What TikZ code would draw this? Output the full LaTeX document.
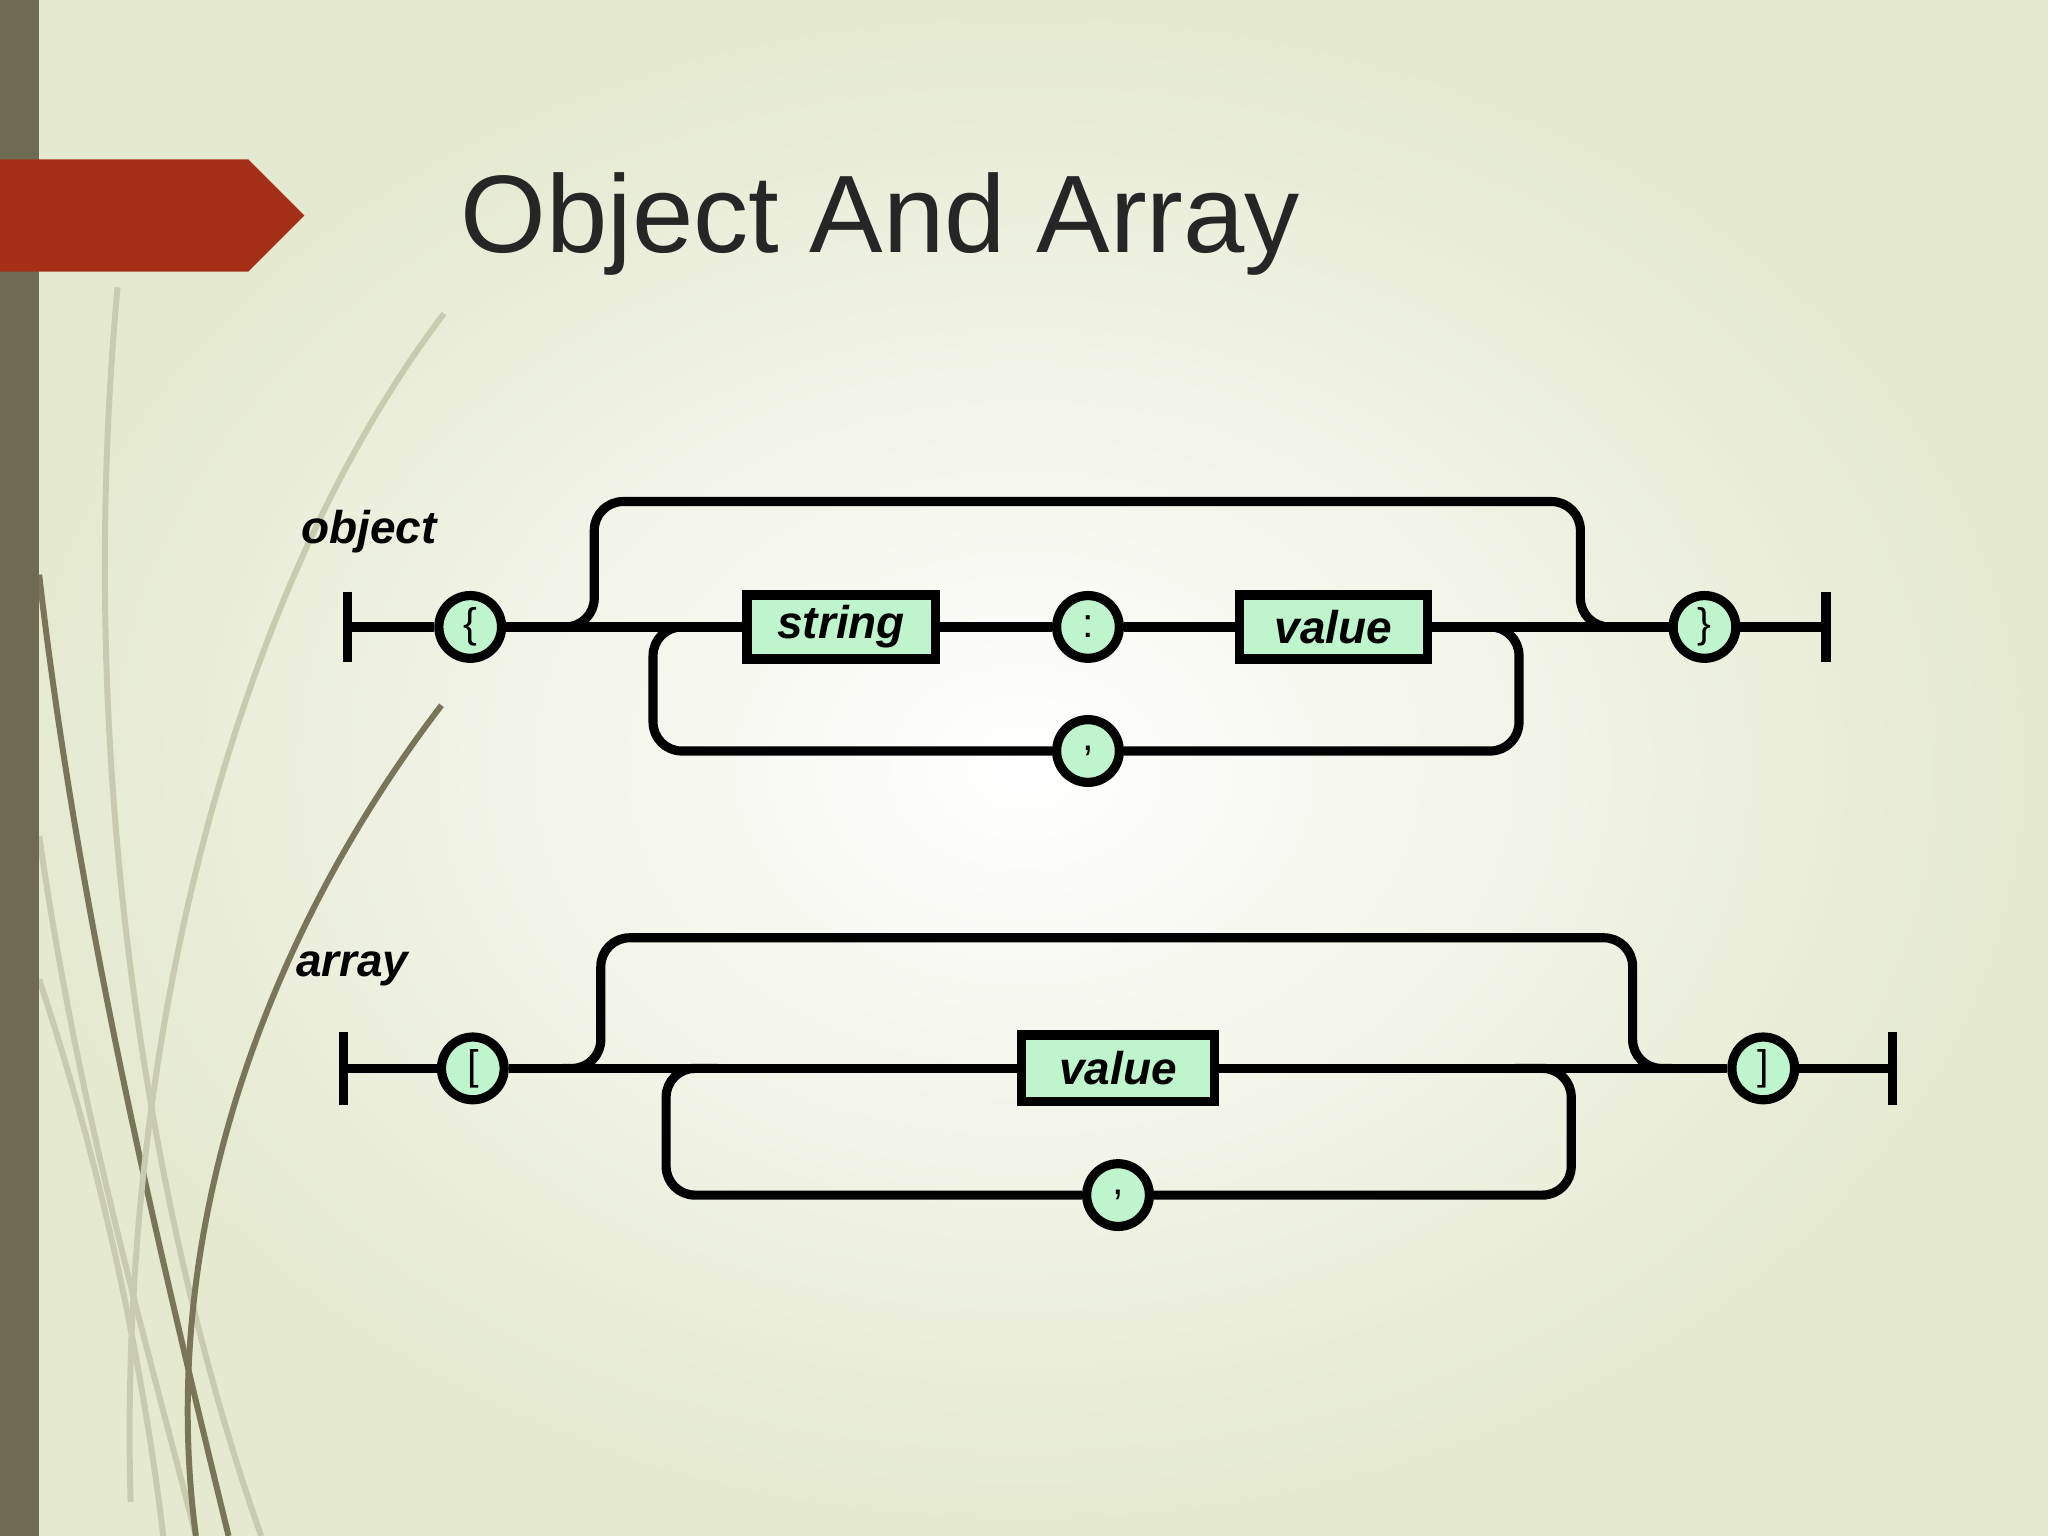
\documentclass[tikz,border=0pt]{standalone}
\usepackage{fontspec}
\setmainfont{Liberation Sans}
\definecolor{bgout}{HTML}{E4E9CF}
\definecolor{barc}{HTML}{6F6A52}
\definecolor{redc}{HTML}{A33016}
\definecolor{curveA}{HTML}{7A7458}
\definecolor{curveB}{HTML}{C9CBB0}
\definecolor{boxc}{HTML}{BFF5CC}
\begin{document}
\begin{tikzpicture}[x=0.01cm,y=-0.01cm,
  rail/.style={line width=7*0.2845pt,black},
  loop/.style={rail,rounded corners=0.22cm},
  term/.style={circle,draw=black,line width=2pt,fill=boxc,minimum size=0.48cm,inner sep=0pt,font=\fontsize{9}{9}\selectfont},
  nt/.style={rectangle,draw=black,line width=2pt,fill=boxc,minimum height=0.49cm,inner sep=0pt,font=\bfseries\itshape\fontsize{10}{10}\selectfont},
  lbl/.style={anchor=west,inner sep=0pt,font=\bfseries\itshape\fontsize{10}{10}\selectfont},
  deco/.style={line width=1.3pt,color=#1}]
\useasboundingbox (0,0) rectangle (1568,1176);
\shade[inner color=white,outer color=bgout] (0,0) rectangle (1568,1176);
% decorative curves
\draw[deco=curveB] (90,220) .. controls (55,600) and (120,950) .. (200,1176);
\draw[deco=curveA] (30,440) .. controls (60,700) and (120,950) .. (175,1176);
\draw[deco=curveB] (30,640) .. controls (60,850) and (110,1020) .. (150,1176);
\draw[deco=curveB] (340,240) .. controls (180,450) and (90,800) .. (100,1150);
\draw[deco=curveA] (338,540) .. controls (200,720) and (120,950) .. (150,1176);
\draw[deco=curveB] (30,750) .. controls (80,900) and (110,1050) .. (125,1176);
\fill[barc] (0,0) rectangle (30,1176);
\fill[redc] (0,122) -- (190,122) -- (233,165) -- (190,208) -- (0,208) -- cycle;
\node[anchor=base west,inner sep=0pt,text=black!85,font=\fontsize{24}{24}\selectfont] (title) at (352,193) {Object And Array};
% object
\node[lbl] (lo) at (230,407) {object};
\coordinate (ol) at (266,480);
\coordinate (or) at (1398,480);
\node[term] (ob1) at (360,480) {\{};
\node[nt,minimum width=1.44cm] (str) at (644,480) {string};
\node[term] (col) at (833,480) {:};
\node[nt,minimum width=1.44cm] (val) at (1021,480) {value};
\node[term] (ob2) at (1305,480) {\}};
\node[term] (com1) at (833,575) {,};
\draw[rail] (266,453) -- (266,507);
\draw[rail] (1398,453) -- (1398,507);
\draw[rail] (ol) -- (ob1) -- (str) -- (col) -- (val) -- (ob2) -- (or);
\draw[loop] (425,480) -- (455,480) -- (455,384) -- (1210,384) -- (1210,480) -- (1240,480);
\draw[loop] (540,480) -- (500,480) -- (500,575) -- (com1.west);
\draw[loop] (com1.east) -- (1163,575) -- (1163,480) -- (1120,480);
% array
\node[lbl] (la) at (226,742) {array};
\coordinate (al) at (263,818);
\coordinate (ar) at (1449,818);
\node[term] (ab1) at (362,818) {[};
\node[nt,minimum width=1.48cm,minimum height=0.51cm] (aval) at (856,818) {value};
\node[term] (ab2) at (1350,818) {]};
\node[term] (com2) at (856,915) {,};
\draw[rail] (263,790) -- (263,846);
\draw[rail] (1449,790) -- (1449,846);
\draw[rail] (al) -- (ab1) -- (aval) -- (ab2) -- (ar);
\draw[loop] (430,818) -- (460,818) -- (460,718) -- (1250,718) -- (1250,818) -- (1280,818);
\draw[loop] (550,818) -- (510,818) -- (510,915) -- (com2.west);
\draw[loop] (com2.east) -- (1203,915) -- (1203,818) -- (1160,818);
\end{tikzpicture}
\end{document}
